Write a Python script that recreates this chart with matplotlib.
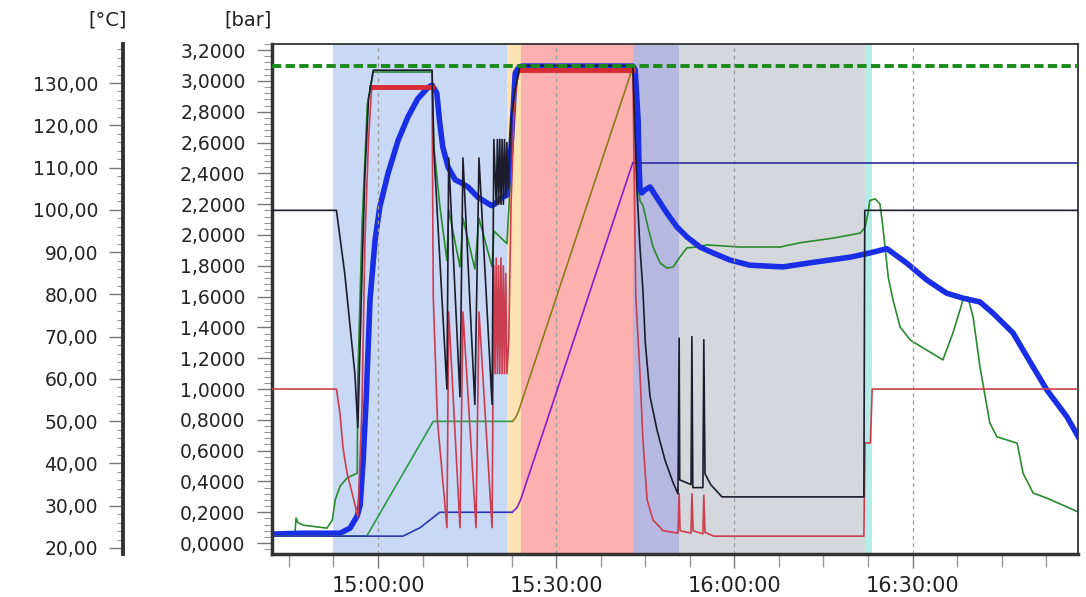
import numpy as np
import matplotlib
matplotlib.use('Agg')
import matplotlib.pyplot as plt
from matplotlib.ticker import MultipleLocator, FuncFormatter, FixedLocator

# time is in minutes after 14:00

# process phases (shaded background)
phase_start = [52.4, 81.7, 84.0, 103.0, 110.6, 142.0]
phase_end = [81.7, 84.0, 103.0, 110.6, 142.0, 143.1]
phase_color = ['#c8d8f5', '#fde2b4', '#fcb0b0', '#b6b8e0', '#d4d8dc', '#b4ece8']

# pressure traces [bar]
black_t = [42.2, 53.0, 54.4, 56.1, 56.6, 57.3, 57.8, 58.4, 59.2, 69.1, 69.4, 71.6, 71.9, 73.8,
           74.3, 76.3, 77.0, 79.2, 79.5, 79.9, 80.1, 80.3, 80.5, 80.7, 80.9, 81.1, 81.3, 81.5,
           81.7, 81.9, 82.4, 83.1, 83.9, 102.9, 103.6, 104.1, 104.6, 105.0, 105.8, 107.0, 108.3,
           109.7, 110.5, 110.7, 110.8, 112.7, 112.85, 113.0, 114.7, 114.85, 115.05, 116.0, 117.9,
           141.8, 141.95, 177.9]
black_p = [2.16, 2.16, 1.75, 1.10, 0.75, 1.75, 2.40, 2.88, 3.07, 3.07, 2.55, 1.00, 2.50, 0.95,
           2.50, 0.90, 2.50, 0.90, 2.62, 2.20, 2.62, 2.20, 2.62, 2.20, 2.62, 2.20, 2.62, 2.25,
           2.60, 2.30, 2.75, 2.95, 3.10, 3.10, 2.29, 1.92, 1.64, 1.30, 0.95, 0.73, 0.54,
           0.39, 0.32, 1.33, 0.41, 0.38, 1.34, 0.36, 0.36, 1.32, 0.45, 0.38, 0.30,
           0.30, 2.16, 2.16]

red_t = [42.2, 53.0, 53.6, 54.1, 54.8, 55.8, 56.6, 57.3, 57.8, 58.4, 58.9, 59.5, 69.1, 69.3,
         70.0, 71.6, 71.9, 73.8, 74.3, 76.5, 77.0, 79.2, 79.5, 79.7, 79.9, 80.1, 80.3, 80.5,
         80.7, 80.9, 81.1, 81.3, 81.5, 81.7, 82.0, 82.4, 82.9, 83.4, 83.9, 102.9, 103.4, 104.1,
         104.6, 105.3, 106.3, 108.0, 110.5, 110.7, 110.85, 112.7, 112.85, 113.05, 114.7, 114.85,
         115.05, 116.5, 141.8, 142.0, 142.9, 143.2, 177.9]
red_p = [1.00, 1.00, 0.84, 0.62, 0.45, 0.30, 0.17, 0.88, 1.97, 2.62, 2.94, 2.96, 2.96, 1.60,
         0.80, 0.10, 1.50, 0.10, 1.50, 0.10, 1.50, 0.10, 1.80, 1.10, 1.85, 1.10, 1.80, 1.10,
         1.85, 1.10, 1.80, 1.10, 1.75, 1.10, 1.30, 2.20, 2.80, 3.00, 3.07, 3.07, 1.60, 1.10,
         0.67, 0.28, 0.15, 0.08, 0.065, 0.32, 0.08, 0.065, 0.32, 0.08, 0.06, 0.31,
         0.07, 0.045, 0.045, 0.65, 0.65, 1.00, 1.00]
red_hold_t = [58.9, 69.1, np.nan, 84.0, 102.9]
red_hold_p = [2.96, 2.96, np.nan, 3.07, 3.07]

ramp1_t = [42.2, 58.1, 69.3, 82.6]
ramp1_p = [0.045, 0.045, 0.79, 0.79]
ramp1b_t = [82.6, 83.1, 83.6, 102.9]
ramp1b_p = [0.79, 0.81, 0.85, 3.09]

ramp2_t = [42.2, 64.2, 67.1, 70.4, 82.6]
ramp2_p = [0.045, 0.045, 0.10, 0.20, 0.20]
ramp2b_t = [82.6, 83.4, 84.0, 102.9]
ramp2b_p = [0.20, 0.23, 0.28, 2.47]
hold2_t = [102.9, 177.9]
hold2_p = [2.47, 2.47]

limit_t = [42.2, 177.9]
limit_p = [3.1, 3.1]

# temperature traces [°C]
green_t = [42.2, 46.0, 46.2, 46.5, 47.4, 51.4, 52.3, 52.8, 53.6, 54.8, 56.5, 56.6, 57.3, 58.2,
           59.2, 69.1, 69.4, 70.4, 71.3, 71.6, 71.9, 73.8, 74.3, 76.3, 77.0, 79.2, 79.5, 81.7,
           82.4, 83.1, 83.9, 102.9, 103.6, 104.1, 104.6, 105.45, 106.3, 107.5, 108.65, 109.7,
           110.8, 112.0, 113.7, 115.4, 120.9, 127.7, 131.0, 136.6, 141.2, 142.0, 142.5, 142.8,
           143.7, 144.5, 145.0, 145.9, 146.7, 147.9, 149.6, 152.4, 155.1, 156.8, 158.5, 159.3,
           160.2, 161.35, 163.0, 164.2, 167.6, 168.6, 170.3, 172.6, 176.0, 177.9]
green_c = [23.1, 23.1, 27.1, 26.0, 25.4, 24.7, 26.6, 31.4, 34.6, 36.6, 37.7, 60.0, 95.9, 125.0,
           132.6, 132.6, 115.0, 101.0, 91.2, 88.0, 100.0, 86.5, 98.0, 86.0, 98.0, 86.5, 95.0, 92.0,
           110.0, 128.0, 134.3, 134.3, 108.0, 102.2, 101.0, 95.9, 91.2, 87.4, 86.2, 86.5,
           88.8, 91.0, 91.2, 91.7, 91.2, 91.2, 92.2, 93.3, 94.5, 95.9, 99.3, 102.2,
           102.6, 101.4, 95.9, 84.1, 78.7, 72.3, 69.2, 66.8, 64.5, 70.9, 78.7, 79.4,
           74.6, 62.8, 49.6, 46.3, 44.8, 37.7, 33.0, 31.8, 29.7, 28.5]

product_t = [42.2, 47.0, 52.4, 53.6, 55.3, 56.5, 57.0, 57.5, 58.0, 58.65, 59.5, 60.3, 61.7, 63.4,
             65.05, 66.7, 68.4, 69.1, 69.9, 70.4, 70.9, 71.8, 73.0, 74.0, 75.15, 76.8, 79.1, 79.7,
             80.5, 81.7, 82.4, 83.1, 83.6, 84.2, 102.9, 103.3, 103.8, 103.9, 104.1, 104.4,
             104.95, 105.8, 106.9, 108.6, 110.3, 112.0, 114.2, 116.4, 119.3, 122.6, 128.2, 133.9,
             139.5, 142.8, 145.7, 149.0, 152.4, 155.7, 158.5, 161.35, 163.5, 166.9, 170.3, 172.6,
             176.0, 177.9]
product_c = [23.3, 23.5, 23.5, 23.5, 24.7, 27.6, 30.2, 40.8, 55.0, 78.7, 92.8, 100.7, 108.7, 116.5,
             122.0, 126.3, 128.9, 129.5, 127.6, 120.5, 114.9, 110.1, 107.1, 106.4, 105.4, 103.0,
             101.0, 101.4, 102.6, 103.5, 115.0, 132.4, 133.5, 134.0, 134.0, 133.1, 121.0, 112.9,
             105.0, 104.0, 104.7, 105.4, 103.0, 99.3, 96.0, 93.6, 91.2, 89.8, 88.1, 86.9, 86.5,
             87.7, 88.8, 89.8, 90.8, 87.4, 83.4, 80.3, 79.1, 78.2, 75.6, 70.9, 62.8, 57.4,
             51.0, 46.3]


def fmt_bar(v, pos):
  if abs(v) < 1e-9:
    v = 0.0
  return ('%.4f' % v).replace('.', ',')

def fmt_degc(v, pos):
  return ('%.2f' % v).replace('.', ',')

def fmt_time(m, pos):
  m = int(round(m))
  return '%d:%02d:00' % (14 + m // 60, m % 60)


plt.rcParams['font.family'] = 'DejaVu Sans'
fig = plt.figure(figsize=(10.86, 5.97), dpi=100)
ax = fig.add_axes([272/1086, 1-554/597, (1078-272)/1086, (554-44)/597])
ax_t = ax.twinx()
ax.set_zorder(ax_t.get_zorder() + 1)
ax.patch.set_visible(False)

for s, e, c in zip(phase_start, phase_end, phase_color):
  ax_t.axvspan(s, e, color=c, lw=0, zorder=0)

# temperatures (below the pressure traces)
ax_t.plot(green_t, green_c, color='#2a8a2e', lw=1.2, zorder=2)
ax_t.plot(product_t, product_c, color='#1a2ee6', lw=4.0, zorder=3, solid_joinstyle='round')

# pressures
ax.plot(ramp1_t, ramp1_p, color='#2f9a4a', lw=1.2, zorder=2)
ax.plot(ramp1b_t, ramp1b_p, color='#8c7d1a', lw=1.2, zorder=2)
ax.plot(ramp2_t, ramp2_p, color='#2a36b8', lw=1.2, zorder=2)
ax.plot(ramp2b_t, ramp2b_p, color='#8a1cc8', lw=1.2, zorder=2)
ax.plot(hold2_t, hold2_p, color='#2c2c9e', lw=1.2, zorder=2)
ax.plot(red_t, red_p, color='#cc3d50', lw=1.2, zorder=3)
ax.plot(red_hold_t, red_hold_p, color='#d92b35', lw=3.5, zorder=3)
ax.plot(black_t, black_p, color='#1c1c2c', lw=1.2, zorder=4)
ax.plot(limit_t, limit_p, color='#1a8a1a', lw=2.8, dashes=(2.4, 1.1), zorder=6)

ax.set_xlim(42.15, 177.85)
ax.set_ylim(-0.071, 3.24)
ax_t.set_ylim(18.58, 139.23)

ax.xaxis.set_major_locator(FixedLocator([60, 90, 120, 150]))
ax.xaxis.set_minor_locator(MultipleLocator(7.5))
ax.xaxis.set_major_formatter(FuncFormatter(fmt_time))
ax.yaxis.set_major_locator(MultipleLocator(0.2))
ax.yaxis.set_minor_locator(MultipleLocator(0.04))
ax.yaxis.set_major_formatter(FuncFormatter(fmt_bar))
ax_t.yaxis.set_major_locator(MultipleLocator(10))
ax_t.yaxis.set_minor_locator(MultipleLocator(2))
ax_t.yaxis.set_major_formatter(FuncFormatter(fmt_degc))

ax.grid(axis='x', which='major', color='#999999', linestyle=(0, (3, 3)), linewidth=0.9)
ax.set_axisbelow(True)

ax.tick_params(axis='y', which='major', direction='out', length=11, width=1, color='#777777',
               labelsize=13.5, pad=8, labelcolor='#222222')
ax.tick_params(axis='y', which='minor', direction='out', length=6, width=0.8, color='#999999')
ax.tick_params(axis='x', which='major', direction='out', length=10, width=1, color='#777777',
               labelsize=15, pad=6, labelcolor='#222222')
ax.tick_params(axis='x', which='minor', direction='out', length=9, width=1, color='#999999')

ax_t.spines['left'].set_position(('axes', (123-272)/806))
ax_t.spines['left'].set_visible(True)
ax_t.spines['left'].set_linewidth(2.8)
ax_t.spines['left'].set_color('#333333')
for s in ['right', 'top', 'bottom']:
  ax_t.spines[s].set_visible(False)
ax_t.yaxis.set_ticks_position('left')
ax_t.yaxis.set_label_position('left')
ax_t.tick_params(axis='y', which='major', direction='out', length=10, width=1, color='#777777',
                 labelsize=13.5, pad=8, labelcolor='#222222')
ax_t.tick_params(axis='y', which='minor', direction='out', length=4, width=0.8, color='#999999')

for s in ['left', 'bottom']:
  ax.spines[s].set_linewidth(2.5)
  ax.spines[s].set_color('#333333')
for s in ['top', 'right']:
  ax.spines[s].set_linewidth(1.3)
  ax.spines[s].set_color('#333333')

fig.text(127/1086, 1-20/597, '[°C]', ha='right', va='center', fontsize=14, color='#222222')
fig.text(272/1086, 1-20/597, '[bar]', ha='right', va='center', fontsize=14, color='#222222')

fig.savefig('out.png', dpi=100)
